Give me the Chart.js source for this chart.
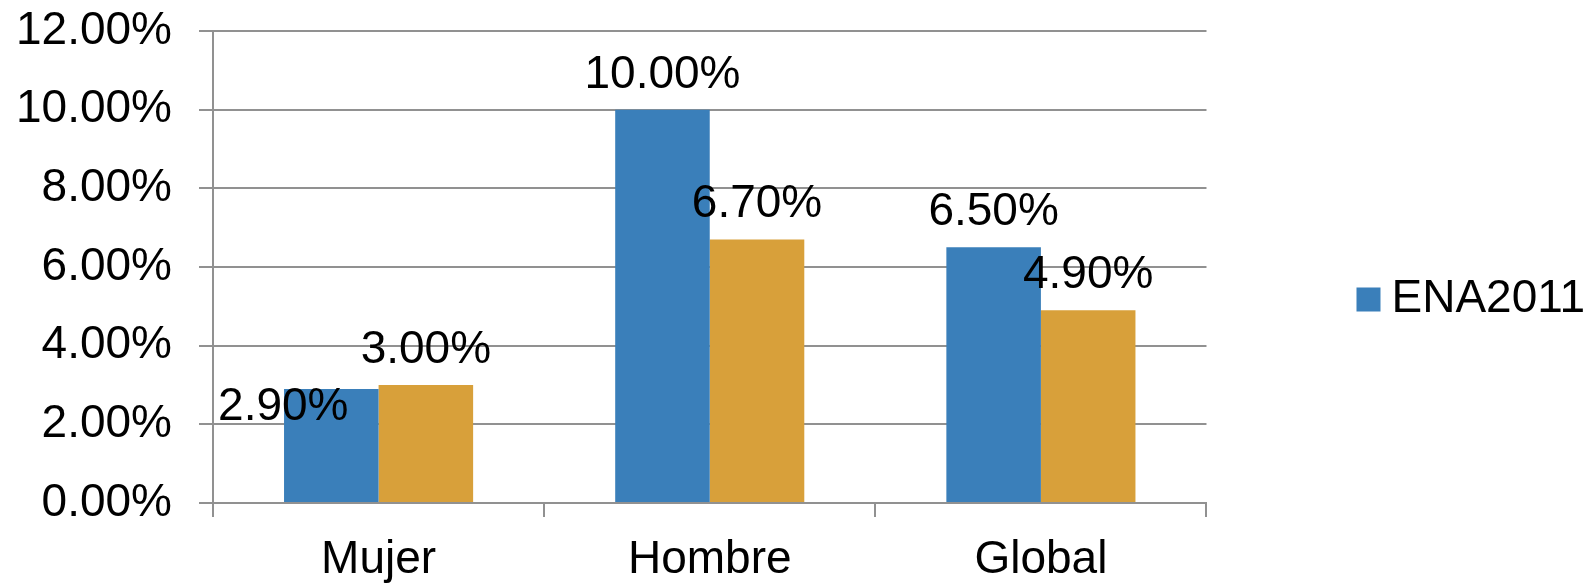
<!DOCTYPE html>
<html>
<head>
<meta charset="utf-8">
<script src="https://cdn.jsdelivr.net/npm/chart.js@4"></script>
<style>
  html, body { margin: 0; padding: 0; background: #fff; }
  #wrap { width: 1595px; height: 586px; }
</style>
</head>
<body>
<div id="wrap"><canvas id="c" width="1595" height="586"></canvas></div>
<script>
const categories = ['Mujer', 'Hombre', 'Global'];
const seriesNames = ['ENA2011', 'Serie 2'];
const seriesA = [2.9, 10.0, 6.5];
const seriesB = [3.0, 6.7, 4.9];
const yTicks = [0, 2, 4, 6, 8, 10, 12];

const FONT = "'Liberation Sans', Arial, sans-serif";
const GRID = '#919191';

const valueLabels = {
  id: 'valueLabels',
  afterDatasetsDraw(chart, args, opts) {
    const ctx = chart.ctx;
    ctx.save();
    ctx.font = opts.size + 'px ' + FONT;
    ctx.fillStyle = '#000';
    ctx.textAlign = 'center';
    ctx.textBaseline = 'alphabetic';
    chart.data.datasets.forEach((ds, di) => {
      const meta = chart.getDatasetMeta(di);
      meta.data.forEach((el, i) => {
        const shift = (opts.shift[di + '-' + i]) || [0, 0];
        ctx.fillText(ds.data[i].toFixed(2) + '%', el.x + shift[0], el.y - opts.gap + shift[1]);
      });
    });
    ctx.restore();
  }
};

new Chart(document.getElementById('c'), {
  type: 'bar',
  data: {
    labels: categories,
    datasets: [
      { label: seriesNames[0], data: seriesA, backgroundColor: '#3A7FBA' },
      { label: seriesNames[1], data: seriesB, backgroundColor: '#D8A03A' }
    ]
  },
  options: {
    responsive: false,
    animation: false,
    devicePixelRatio: 1,
    layout: { padding: { top: 13, left: 0, right: 0, bottom: 0 } },
    datasets: { bar: { categoryPercentage: 0.571, barPercentage: 1.0, borderWidth: 0 } },
    scales: {
      x: {
        offset: true,
        grid: { offset: true, drawOnChartArea: false, drawTicks: true, tickLength: 14, color: GRID, lineWidth: 2 },
        border: { color: GRID, width: 2 },
        ticks: { color: '#000', font: { family: FONT, size: 46 }, padding: 16 },
        afterFit(s) { s.height = 83; }
      },
      y: {
        min: 0, max: 12,
        afterBuildTicks(s) { s.ticks = yTicks.map(v => ({ value: v })); },
        grid: { color: GRID, lineWidth: 2, tickLength: 14, drawTicks: true },
        border: { color: GRID, width: 2 },
        ticks: { color: '#000', font: { family: FONT, size: 46 }, padding: 27,
                 callback: v => Number(v).toFixed(2) + '%' },
        afterFit(s) { s.width = 213; s.paddingTop = 31; }
      }
    },
    plugins: {
      tooltip: { enabled: false },
      legend: {
        position: 'right',
        labels: {
          filter: (item) => item.datasetIndex === 0,
          usePointStyle: true,
          pointStyle: 'rect',
          boxWidth: 0.01,
          boxHeight: 24,
          padding: 162,
          color: '#000',
          font: { family: FONT, size: 46 }
        }
      },
      valueLabels: { size: 46, gap: 22, shift: { '0-0': [-48, 53] } }
    }
  },
  plugins: [valueLabels]
});
</script>
</body>
</html>
